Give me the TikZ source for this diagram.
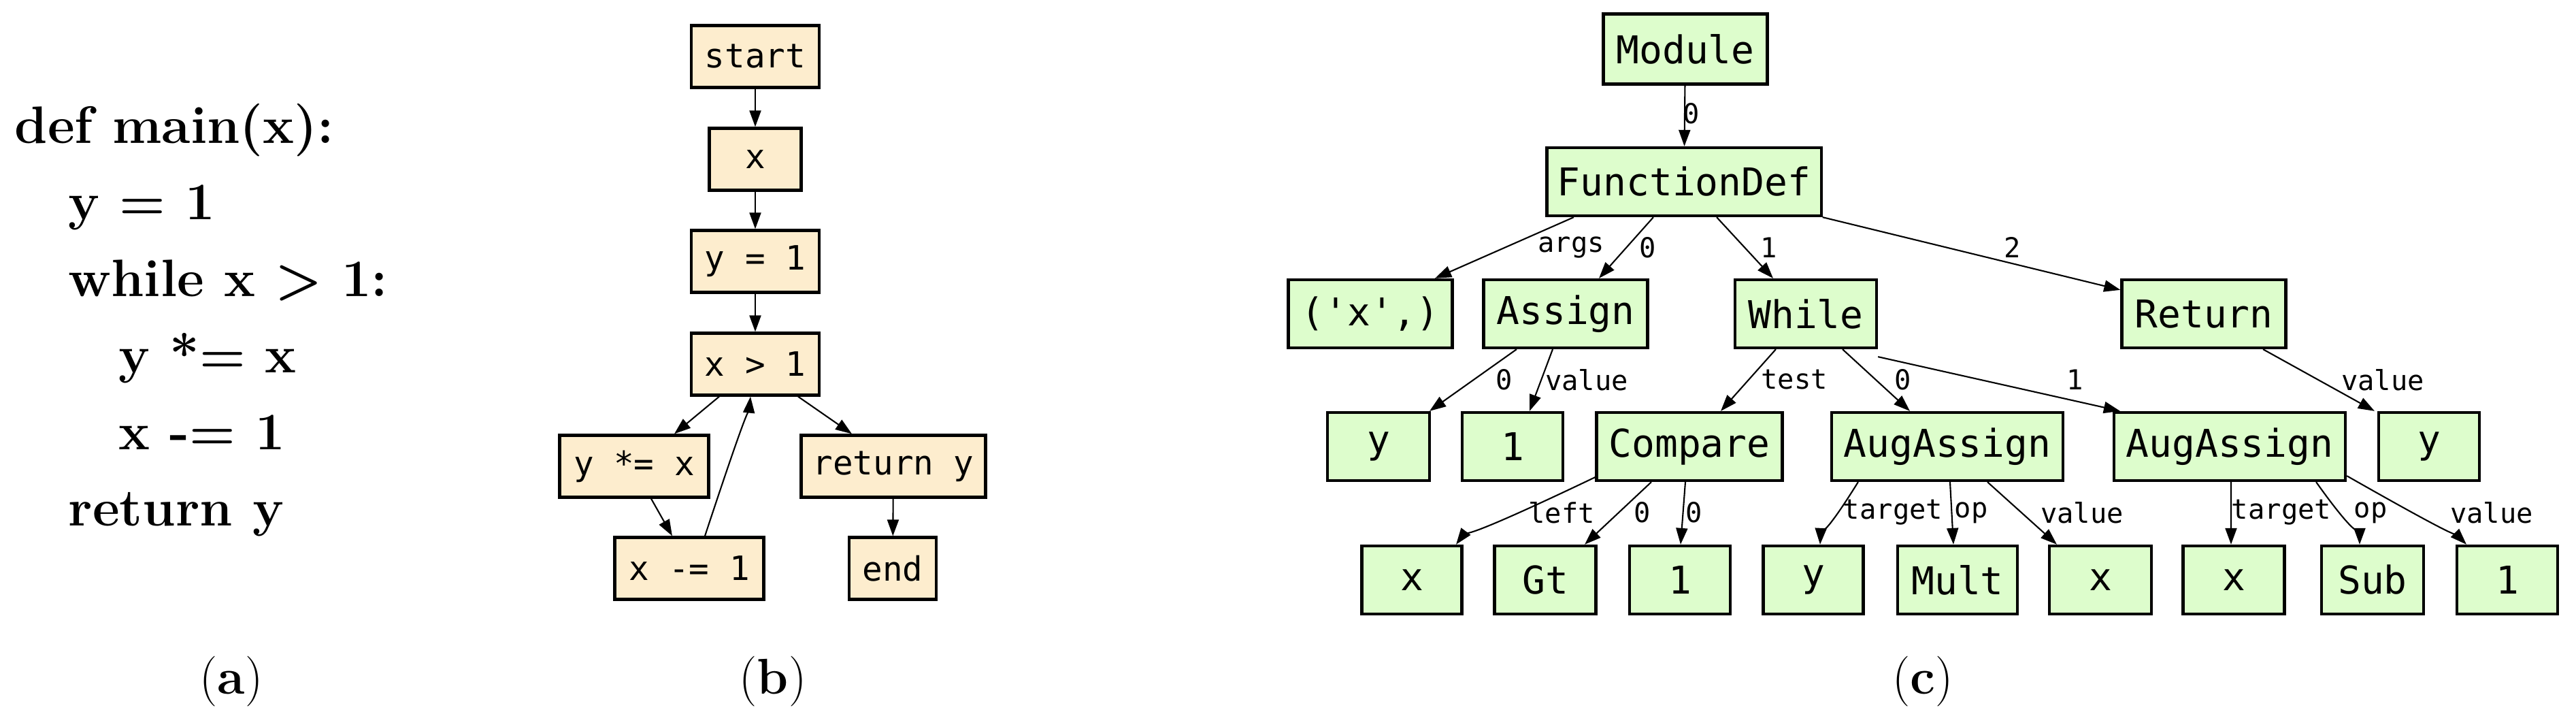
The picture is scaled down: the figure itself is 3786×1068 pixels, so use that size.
\documentclass[tikz,border=0pt]{standalone}
\usepackage{fontspec}
\newfontfamily\dmono{DejaVu Sans Mono}
\usetikzlibrary{arrows.meta}
\definecolor{cream}{HTML}{FDEDCE}
\definecolor{lgreen}{HTML}{DDFDCC}
\begin{document}
\begin{tikzpicture}[x=0.01cm,y=-0.01cm,
  fbox/.style={draw, line width=1.2pt, fill=cream, minimum height=0.91cm, inner sep=0pt, font=\dmono\fontsize{14}{16}\selectfont},
  abox/.style={draw, line width=1.2pt, fill=lgreen, minimum height=1.0cm, inner sep=0pt, font=\dmono\fontsize{16}{18}\selectfont},
  e/.style={-{Triangle[length=0.24cm,width=0.17cm]}, line width=0.6pt},
  lab/.style={font=\dmono\fontsize{11.5}{13}\selectfont, inner sep=1pt},
  code/.style={anchor=base west, font=\bfseries\fontsize{22}{26}\selectfont, inner sep=0pt},
  subcap/.style={font=\fontsize{21}{24}\selectfont, inner sep=0pt}]
\useasboundingbox (0,0) rectangle (3786,1068);
% (a)
\node[code] (a1) at (21,211) {def main(x):};
\node[code] (a2) at (100,323) {y = 1};
\node[code] (a3) at (100,436) {while x > 1:};
\node[code] (a4) at (174,548) {y *= x};
\node[code] (a5) at (174,661) {x -= 1};
\node[code] (a6) at (100,773) {return y};
\node[subcap] (ca) at (340,1001) {(\textbf{a})};
\node[subcap] (cb) at (1136,1001) {(\textbf{b})};
\node[subcap] (cc) at (2826,1001) {(\textbf{c})};
% (b)
\node[fbox, minimum width=1.88cm] (start) at (1110,83) {start};
\node[fbox, minimum width=1.35cm] (bx) at (1110,234) {x};
\node[fbox, minimum width=1.88cm] (by1) at (1110,384) {y = 1};
\node[fbox, minimum width=1.88cm] (bxg) at (1110,535) {x > 1};
\node[fbox, minimum width=2.19cm] (bym) at (932,685) {y *= x};
\node[fbox, minimum width=2.19cm] (bxm) at (1013,835) {x -= 1};
\node[fbox, minimum width=2.71cm] (bret) at (1313,685) {return y};
\node[fbox, minimum width=1.28cm] (bend) at (1312,835) {end};
\draw[e] (start) -- (bx);
\draw[e] (bx) -- (by1);
\draw[e] (by1) -- (bxg);
\draw[e] ([xshift=-0.53cm]bxg.south) -- ([xshift=0.59cm]bym.north);
\draw[e] ([xshift=0.63cm]bxg.south) -- ([xshift=-0.61cm]bret.north);
\draw[e] ([xshift=0.25cm]bym.south) -- ([xshift=-0.25cm]bxm.north);
\draw[e] ([xshift=0.23cm]bxm.north) .. controls +(0.3,-0.6) and +(-0.05,0.5) .. ([xshift=-0.07cm]bxg.south);
\draw[e] (bret) -- (bend);
% (c)
\node[abox, minimum width=2.41cm, minimum height=1.03cm] (mod) at (2477,72) {Module};
\node[abox, minimum width=4.03cm] (fd) at (2475,267) {FunctionDef};
\node[abox, minimum width=2.41cm] (args) at (2014,461) {('x',)};
\node[abox, minimum width=2.41cm] (asg) at (2301,461) {Assign};
\node[abox, minimum width=2.08cm] (whl) at (2654,461) {While};
\node[abox, minimum width=2.41cm] (ret) at (3239,461) {Return};
\node[abox, minimum width=1.5cm] (ay) at (2026,656) {y};
\node[abox, minimum width=1.48cm] (a1n) at (2223,656) {1};
\node[abox, minimum width=2.73cm] (cmp) at (2483,656) {Compare};
\node[abox, minimum width=3.4cm] (aug1) at (2862,656) {AugAssign};
\node[abox, minimum width=3.4cm] (aug2) at (3277,656) {AugAssign};
\node[abox, minimum width=1.48cm] (ry) at (3570,656) {y};
\node[abox, minimum width=1.47cm] (l1) at (2075,852) {x};
\node[abox, minimum width=1.49cm] (l2) at (2271,852) {Gt};
\node[abox, minimum width=1.48cm] (l3) at (2469,852) {1};
\node[abox, minimum width=1.47cm] (l4) at (2665,852) {y};
\node[abox, minimum width=1.76cm] (l5) at (2877,852) {Mult};
\node[abox, minimum width=1.5cm] (l6) at (3087,852) {x};
\node[abox, minimum width=1.49cm] (l7) at (3283,852) {x};
\node[abox, minimum width=1.5cm] (l8) at (3487,852) {Sub};
\node[abox, minimum width=1.48cm] (l9) at (3685,852) {1};
\draw[e] (mod) -- (fd);
\node[lab] (t0) at (2486,167) {0};
\draw[e] ([xshift=-1.62cm]fd.south) .. controls +(-0.6,0.3) .. ([xshift=0.95cm]args.north);
\draw[e] ([xshift=-0.45cm]fd.south) -- ([xshift=0.49cm]asg.north);
\draw[e] ([xshift=0.48cm]fd.south) -- ([xshift=-0.48cm]whl.north);
\draw[e] (fd.south east) -- ([yshift=-0.17cm]ret.north west);
\node[lab] (t1) at (2309,364) {args};
\node[lab] (t2) at (2422,364) {0};
\node[lab] (t3) at (2600,364) {1};
\node[lab] (t4) at (2958,364) {2};
\draw[e] ([xshift=-0.72cm]asg.south) -- ([xshift=0.75cm]ay.north);
\draw[e] ([xshift=-0.19cm]asg.south) -- ([xshift=0.25cm]a1n.north);
\draw[e] ([xshift=-0.44cm]whl.south) -- ([xshift=0.46cm]cmp.north);
\draw[e] ([xshift=0.54cm]whl.south) -- ([xshift=-0.55cm]aug1.north);
\draw[e] ([yshift=-0.11cm]whl.south east) -- ([xshift=-1.61cm]aug2.north);
\draw[e] ([xshift=0.87cm]ret.south) -- ([xshift=-0.8cm]ry.north);
\node[lab] (t5) at (2211,558) {0};
\node[lab] (t6) at (2332,558) {value};
\node[lab] (t7) at (2637,558) {test};
\node[lab] (t8) at (2797,558) {0};
\node[lab] (t9) at (3050,558) {1};
\node[lab] (t10) at (3502,558) {value};
\draw[e] ([yshift=0.07cm]cmp.south west) .. controls +(-0.9,0.3) and +(0.3,-0.4) .. ([xshift=0.65cm]l1.north);
\draw[e] ([xshift=-0.56cm]cmp.south) -- ([xshift=0.58cm]l2.north);
\draw[e] ([xshift=-0.06cm]cmp.south) -- ([xshift=0.01cm]l3.north);
\draw[e] ([xshift=-1.31cm]aug1.south) .. controls +(-0.3,0.3) and +(0.02,-0.4) .. ([xshift=0.1cm]l4.north);
\draw[e] ([xshift=0.04cm]aug1.south) -- ([xshift=-0.06cm]l5.north);
\draw[e] ([xshift=0.59cm]aug1.south) -- ([xshift=-0.64cm]l6.north);
\draw[e] ([xshift=0.02cm]aug2.south) -- ([xshift=-0.04cm]l7.north);
\draw[e] ([xshift=1.27cm]aug2.south) .. controls +(0.3,0.35) and +(0,-0.4) .. ([xshift=-0.19cm]l8.north);
\draw[e] ([yshift=0.09cm]aug2.south east) .. controls +(0.9,0.35) and +(-0.3,-0.3) .. ([xshift=-0.6cm]l9.north);
\node[lab] (t11) at (2295,753) {left};
\node[lab] (t12) at (2414,753) {0};
\node[lab] (t13) at (2490,753) {0};
\node[lab] (t14) at (2782,753) {target};
\node[lab] (t15) at (2897,753) {op};
\node[lab] (t16) at (3060,753) {value};
\node[lab] (t17) at (3353,753) {target};
\node[lab] (t18) at (3484,753) {op};
\node[lab] (t19) at (3662,753) {value};
\end{tikzpicture}
\end{document}
